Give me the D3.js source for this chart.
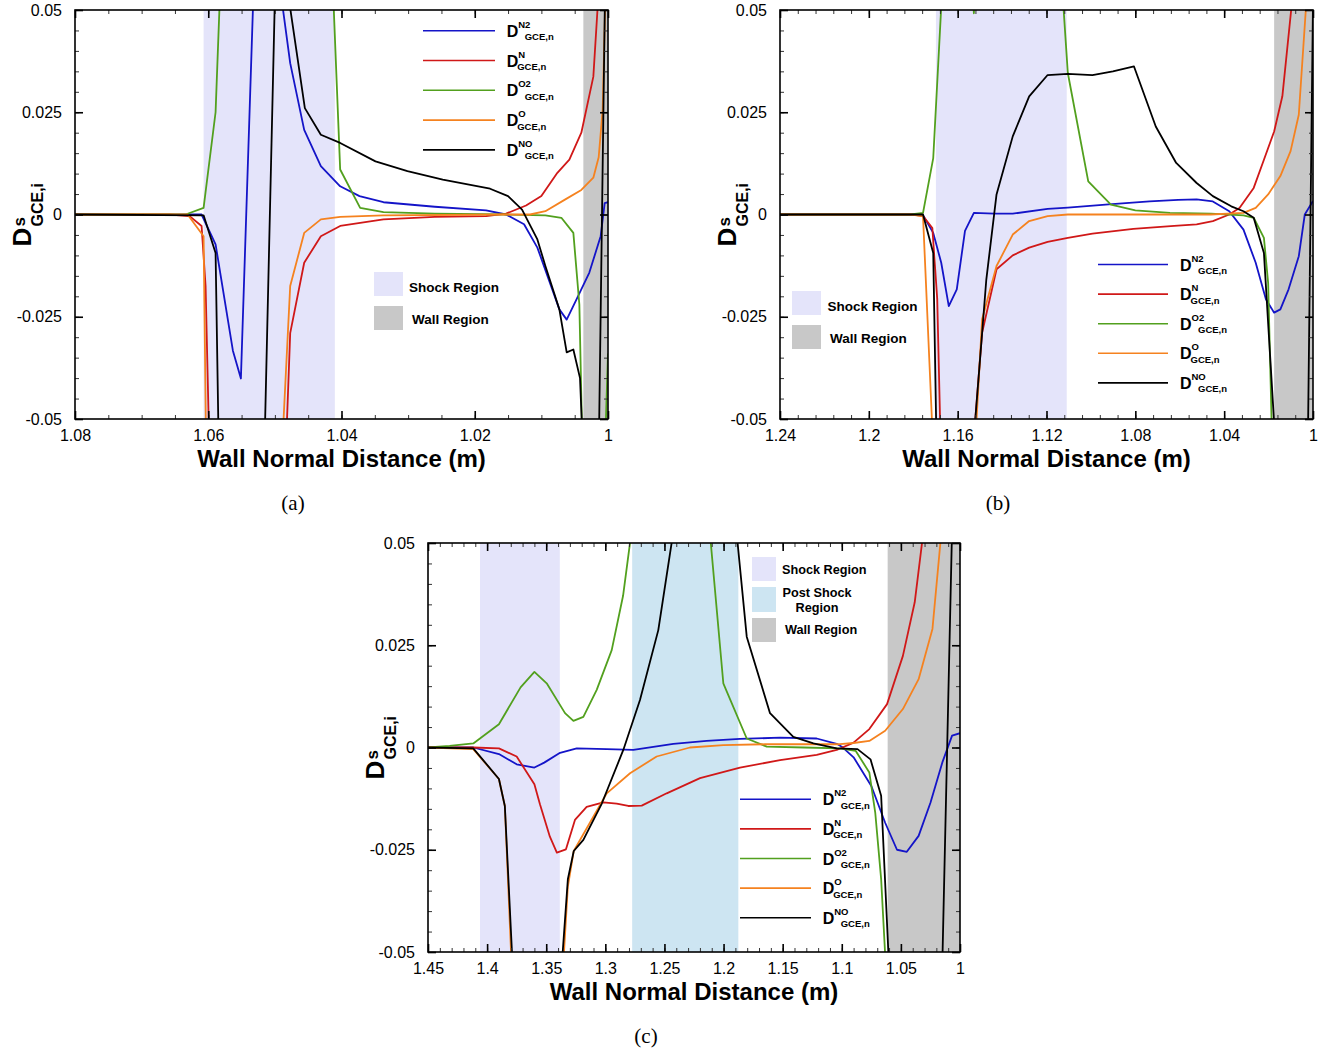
<!DOCTYPE html>
<html>
<head>
<meta charset="utf-8">
<script src="https://cdn.jsdelivr.net/npm/d3@7"></script>
<style>
body { margin: 0; background: #fff; }
svg text { font-family: "Liberation Sans", Arial, Helvetica, sans-serif; }
</style>
</head>
<body>
<svg id="fig" width="1341" height="1053"></svg>
<script>
// species order used by every panel and legend
let species = ["N2", "N", "O2", "O", "NO"];

// y axis is shared by all three panels
let yTicks = [-0.05, -0.025, 0, 0.025, 0.05];

// ---- panel (a) ----
let xTicksA = [1.08, 1.06, 1.04, 1.02, 1];
let shockA = [1.041, 1.0607];
let wallA = [1.0, 1.0037];
let aN2 = [[1.08,0],[1.061,0],[1.0589,-0.0073],[1.0563,-0.0333],[1.0551,-0.0401],[1.0532,0.055],[1.051,0.12],[1.0491,0.054],[1.0477,0.037],[1.0456,0.0207],[1.0431,0.0118],[1.0402,0.0069],[1.0373,0.0045],[1.0337,0.003],[1.026,0.0019],[1.0183,0.001],[1.0153,0],[1.0126,-0.0024],[1.0106,-0.0081],[1.0073,-0.0232],[1.0062,-0.0257],[1.0046,-0.0203],[1.0028,-0.0142],[1.0011,-0.0053],[1.0005,0.0028],[1.0,0.003]];
let aN = [[1.08,0],[1.0658,0],[1.0628,-0.0004],[1.061,-0.0028],[1.0604,-0.0175],[1.0598,-0.06],[1.0484,-0.06],[1.0477,-0.029],[1.0456,-0.0118],[1.0431,-0.0053],[1.0402,-0.0028],[1.0337,-0.0012],[1.026,-0.0006],[1.0183,-0.0004],[1.0153,0.0002],[1.0123,0.0022],[1.010,0.0045],[1.0076,0.0102],[1.0058,0.0134],[1.004,0.02],[1.0022,0.0337],[1.0012,0.06]];
let aO2 = [[1.08,0],[1.0634,0],[1.0607,0.0016],[1.0589,0.025],[1.0581,0.06],[1.05,0.15],[1.0414,0.06],[1.0402,0.011],[1.0372,0.0016],[1.0337,0.0006],[1.026,0.0002],[1.0153,0],[1.0094,-0.0002],[1.007,-0.0008],[1.0052,-0.0045],[1.0043,-0.022],[1.0038,-0.06],[1.0005,-0.06],[1.0,-0.034]];
let aO = [[1.08,0],[1.0631,0],[1.0607,-0.0053],[1.0603,-0.06],[1.049,-0.06],[1.0477,-0.0175],[1.0456,-0.0045],[1.0431,-0.0012],[1.0402,-0.0006],[1.0337,-0.0002],[1.0153,0],[1.0117,0],[1.0094,0.0008],[1.0064,0.0037],[1.004,0.006],[1.0022,0.009],[1.0014,0.014],[1.0008,0.0256],[1.0003,0.06]];
let aNO = [[1.08,0],[1.0607,-0.0002],[1.0589,-0.0094],[1.0584,-0.06],[1.0516,-0.06],[1.0499,0.06],[1.049,0.1],[1.0482,0.056],[1.0455,0.026],[1.0431,0.0195],[1.0402,0.0175],[1.0349,0.013],[1.0301,0.0106],[1.0248,0.0085],[1.0177,0.0063],[1.015,0.0045],[1.0129,0.0012],[1.0106,-0.0061],[1.0094,-0.0126],[1.0073,-0.0232],[1.0062,-0.0337],[1.0052,-0.033],[1.0042,-0.040],[1.0037,-0.06],[1.0014,-0.06],[1.0004,0.06]];

// ---- panel (b) ----
let xTicksB = [1.24, 1.2, 1.16, 1.12, 1.08, 1.04, 1];
let shockB = [1.1109, 1.1698];
let wallB = [1.0, 1.0175];
let bN2 = [[1.24,0],[1.1802,0],[1.1756,-0.0002],[1.171,-0.0045],[1.1674,-0.0118],[1.164,-0.0224],[1.1604,-0.0183],[1.1567,-0.004],[1.1527,0.0004],[1.1435,0.0002],[1.1352,0.0002],[1.1195,0.0014],[1.1104,0.0017],[1.092,0.0025],[1.0736,0.0032],[1.0607,0.0036],[1.0524,0.0037],[1.0451,0.0032],[1.0377,0.0008],[1.0313,-0.0037],[1.0258,-0.0118],[1.0212,-0.0207],[1.0175,-0.024],[1.0147,-0.0232],[1.011,-0.0183],[1.0064,-0.0102],[1.0037,0],[1.0,0.0033]];
let bN = [[1.24,0],[1.1802,0],[1.1756,-0.0004],[1.1714,-0.0033],[1.1692,-0.0207],[1.1675,-0.06],[1.1535,-0.06],[1.149,-0.0289],[1.1425,-0.0134],[1.1352,-0.010],[1.1278,-0.0081],[1.1195,-0.0067],[1.1104,-0.0057],[1.0993,-0.0047],[1.0809,-0.0035],[1.0625,-0.0028],[1.0524,-0.0024],[1.0451,-0.0016],[1.0377,0],[1.0331,0.0016],[1.0267,0.0065],[1.0221,0.0134],[1.0175,0.0203],[1.0138,0.0289],[1.0087,0.056]];
let bO2 = [[1.24,0],[1.1811,0],[1.1756,0.0004],[1.171,0.0138],[1.1665,0.06],[1.158,0.1],[1.1527,0.0492],[1.148,0.1],[1.1135,0.06],[1.1104,0.0346],[1.1012,0.0081],[1.091,0.0024],[1.08,0.001],[1.0644,0.0004],[1.046,0.0002],[1.0313,-0.0002],[1.0267,-0.0008],[1.0221,-0.0057],[1.0202,-0.0167],[1.0182,-0.06]];
let bO = [[1.24,0],[1.1811,0],[1.1756,-0.0004],[1.1708,-0.06],[1.1525,-0.06],[1.149,-0.0256],[1.1425,-0.0126],[1.1352,-0.0049],[1.1278,-0.0016],[1.1195,-0.0004],[1.1104,0],[1.046,0],[1.0313,0.0004],[1.0258,0.0016],[1.0202,0.0049],[1.0147,0.0094],[1.0101,0.0155],[1.0064,0.0244],[1.0025,0.056]];
let bNO = [[1.24,0],[1.1756,0],[1.171,-0.0094],[1.1694,-0.06],[1.1535,-0.06],[1.1471,-0.0159],[1.1425,0.0049],[1.1352,0.0191],[1.1278,0.0289],[1.1195,0.0341],[1.1104,0.0344],[1.0993,0.0341],[1.0901,0.035],[1.0806,0.0362],[1.0708,0.0215],[1.0616,0.0126],[1.0524,0.0077],[1.0451,0.0045],[1.0368,0.002],[1.0313,0.0008],[1.0267,-0.0008],[1.0221,-0.0094],[1.0165,-0.06],[1.0024,-0.06],[1.0,0.052]];

// ---- panel (c) ----
let xTicksC = [1.45, 1.4, 1.35, 1.3, 1.25, 1.2, 1.15, 1.1, 1.05, 1];
let shockC = [1.3385, 1.406];
let postShockC = [1.1875, 1.2773];
let wallC = [1.0, 1.0612];
let cN2 = [[1.45,0],[1.4117,0],[1.39,-0.0016],[1.375,-0.0041],[1.36,-0.0049],[1.3517,-0.0037],[1.3383,-0.0013],[1.3242,-0.0002],[1.2988,-0.0004],[1.2763,-0.0006],[1.2425,0.0009],[1.2143,0.0016],[1.1861,0.0021],[1.1522,0.0024],[1.1212,0.0022],[1.1043,0.0009],[1.1,0.0002],[1.09,-0.0024],[1.075,-0.0094],[1.0633,-0.0184],[1.0533,-0.025],[1.045,-0.0255],[1.035,-0.0216],[1.025,-0.0135],[1.015,-0.0037],[1.0067,0.0029],[1.0,0.0035]];
let cN = [[1.45,0],[1.4117,0],[1.39,-0.0002],[1.375,-0.0022],[1.36,-0.009],[1.3553,-0.0139],[1.3469,-0.0218],[1.341,-0.0257],[1.3333,-0.0249],[1.3257,-0.0177],[1.3158,-0.0145],[1.3017,-0.0134],[1.2904,-0.0137],[1.2806,-0.0143],[1.2692,-0.0142],[1.2481,-0.0112],[1.2199,-0.0075],[1.1861,-0.0049],[1.1522,-0.0031],[1.1212,-0.0018],[1.1043,-0.0006],[1.09,0.0012],[1.0767,0.0045],[1.0617,0.0106],[1.0483,0.0224],[1.0383,0.0355],[1.03,0.055]];
let cO2 = [[1.45,0],[1.4317,0.0004],[1.4117,0.001],[1.39,0.0057],[1.3717,0.0147],[1.36,0.0185],[1.3496,0.0157],[1.3341,0.0084],[1.327,0.0065],[1.3186,0.0075],[1.3073,0.0141],[1.2946,0.0238],[1.285,0.0371],[1.2755,0.058],[1.2145,0.062],[1.2002,0.0157],[1.1804,0.0022],[1.1635,0.0002],[1.1317,0],[1.1017,-0.0002],[1.0883,-0.0008],[1.0767,-0.0061],[1.0717,-0.0159],[1.0667,-0.0322],[1.0612,-0.062]];
let cO = [[1.45,0],[1.4117,-0.0004],[1.39,-0.0077],[1.385,-0.0143],[1.3783,-0.06],[1.337,-0.06],[1.3317,-0.034],[1.3267,-0.0253],[1.3214,-0.0226],[1.2988,-0.0112],[1.2791,-0.0063],[1.2566,-0.0022],[1.2284,0],[1.2002,0.0006],[1.165,0.0008],[1.1317,0.0008],[1.1017,0.0008],[1.09,0.0011],[1.0767,0.0016],[1.0633,0.0041],[1.0483,0.0094],[1.035,0.0167],[1.0233,0.029],[1.015,0.055]];
let cNO = [[1.45,0],[1.4117,-0.0002],[1.39,-0.0077],[1.385,-0.0143],[1.3773,-0.06],[1.3385,-0.06],[1.3317,-0.0322],[1.3267,-0.0253],[1.3186,-0.0226],[1.303,-0.0137],[1.2848,-0.0006],[1.2707,0.0116],[1.2552,0.0287],[1.2397,0.058],[1.1915,0.06],[1.1804,0.0271],[1.1607,0.0084],[1.141,0.0026],[1.124,0.001],[1.1043,-0.0002],[1.0867,-0.0004],[1.0757,-0.0029],[1.0667,-0.0118],[1.059,-0.06],[1.0155,-0.06],[1.0062,0.06]];

// colours
let lineColor = {N2: "#1414c8", N: "#d01818", O2: "#52a01e", O: "#f5821f", NO: "#000000"};
let shockFill = "#e4e4fa", postFill = "#cde5f2", wallFill = "#c8c8c8";

let panels = [
    {
        id: "a", left: 75, top: 10, width: 533, height: 409,
        xDomain: [1.08, 1.0], xTicks: xTicksA, minorStep: 0.005,
        regions: [[shockA, shockFill], [wallA, wallFill]],
        series: [aN2, aN, aO2, aO, aNO],
        legend: {x1: 423, x2: 495, y0: 30.7, dy: 29.8, tx: 506.7},
        boxes: {x: 374, w: 29, size: 13.5, items: [
            {y: 272, h: 24, fill: shockFill, lines: [["Shock Region", 409, 292, "start"]]},
            {y: 306, h: 24, fill: wallFill, lines: [["Wall Region", 412, 324, "start"]]}
        ]},
        caption: {x: 293, y: 510, text: "(a)"}
    },
    {
        id: "b", left: 780, top: 10, width: 533, height: 409,
        xDomain: [1.24, 1.0], xTicks: xTicksB, minorStep: 0.008,
        regions: [[shockB, shockFill], [wallB, wallFill]],
        series: [bN2, bN, bO2, bO, bNO],
        legend: {x1: 1098, x2: 1168, y0: 264.5, dy: 29.6, tx: 1180},
        boxes: {x: 792, w: 29, size: 13.5, items: [
            {y: 291, h: 24, fill: shockFill, lines: [["Shock Region", 827.5, 311, "start"]]},
            {y: 325, h: 24, fill: wallFill, lines: [["Wall Region", 830, 343, "start"]]}
        ]},
        caption: {x: 998, y: 510, text: "(b)"}
    },
    {
        id: "c", left: 428, top: 543, width: 532, height: 409,
        xDomain: [1.45, 1.0], xTicks: xTicksC, minorStep: 0.01,
        regions: [[shockC, shockFill], [postShockC, postFill], [wallC, wallFill]],
        series: [cN2, cN, cO2, cO, cNO],
        legend: {x1: 740, x2: 811, y0: 799.3, dy: 29.6, tx: 822.7},
        boxes: {x: 752, w: 24, size: 12.7, items: [
            {y: 557, h: 24, fill: shockFill, lines: [["Shock Region", 782, 574, "start"]]},
            {y: 587, h: 25, fill: postFill, lines: [["Post Shock", 817, 597, "middle"], ["Region", 817, 612, "middle"]]},
            {y: 618, h: 24, fill: wallFill, lines: [["Wall Region", 785, 634, "start"]]}
        ]},
        caption: {x: 646, y: 1043, text: "(c)"}
    }
];

let svg = d3.select("#fig");
let fmt = d => String(d);

function styleAxis(sel, major) {
    sel.select(".domain").remove();
    sel.selectAll(".tick line")
        .attr("stroke", major ? "#000" : "#333")
        .attr("stroke-width", major ? 1.6 : 1);
    sel.selectAll(".tick text")
        .attr("fill", "#000")
        .attr("font-size", 16)
        .attr("font-family", "'Liberation Sans', Arial, Helvetica, sans-serif");
}

function drawPanel(p) {
    let g = svg.append("g").attr("transform", `translate(${p.left}, ${p.top})`);

    let x = d3.scaleLinear().domain(p.xDomain).range([0, p.width]);
    let y = d3.scaleLinear().domain([-0.05, 0.05]).range([p.height, 0]);

    let clipId = "clip-" + p.id;
    g.append("clipPath").attr("id", clipId)
        .append("rect").attr("width", p.width).attr("height", p.height);
    let plot = g.append("g").attr("clip-path", `url(#${clipId})`);

    // shaded regions
    p.regions.forEach(([span, fill]) => {
        plot.append("rect")
            .attr("x", x(span[1]))
            .attr("width", x(span[0]) - x(span[1]))
            .attr("y", 0)
            .attr("height", p.height)
            .attr("fill", fill);
    });

    // curves
    let line = d3.line().x(d => x(d[0])).y(d => y(d[1]));
    p.series.forEach((s, i) => {
        plot.append("path")
            .datum(s)
            .attr("d", line)
            .attr("fill", "none")
            .attr("stroke", lineColor[species[i]])
            .attr("stroke-width", 1.8)
            .attr("stroke-linejoin", "round");
    });

    // minor tick positions
    let lo = d3.min(p.xDomain), hi = d3.max(p.xDomain);
    let nx = Math.round((hi - lo) / p.minorStep);
    let minorX = d3.range(nx + 1).map(i => lo + i * p.minorStep);
    let minorY = d3.range(21).map(i => -0.05 + i * 0.005);

    // bottom / top
    g.append("g").attr("transform", `translate(0, ${p.height})`)
        .call(d3.axisBottom(x).tickValues(minorX).tickSize(-4).tickFormat(""))
        .call(a => styleAxis(a, false));
    g.append("g").attr("transform", `translate(0, ${p.height})`)
        .call(d3.axisBottom(x).tickValues(p.xTicks).tickSize(-8).tickPadding(11).tickFormat(fmt))
        .call(a => styleAxis(a, true));
    g.append("g")
        .call(d3.axisTop(x).tickValues(minorX).tickSize(-4).tickFormat(""))
        .call(a => styleAxis(a, false));
    g.append("g")
        .call(d3.axisTop(x).tickValues(p.xTicks).tickSize(-8).tickFormat(""))
        .call(a => styleAxis(a, true));

    // left / right
    g.append("g")
        .call(d3.axisLeft(y).tickValues(minorY).tickSize(-4).tickFormat(""))
        .call(a => styleAxis(a, false));
    g.append("g")
        .call(d3.axisLeft(y).tickValues(yTicks).tickSize(-8).tickPadding(13).tickFormat(fmt))
        .call(a => styleAxis(a, true));
    g.append("g").attr("transform", `translate(${p.width}, 0)`)
        .call(d3.axisRight(y).tickValues(minorY).tickSize(-4).tickFormat(""))
        .call(a => styleAxis(a, false));
    g.append("g").attr("transform", `translate(${p.width}, 0)`)
        .call(d3.axisRight(y).tickValues(yTicks).tickSize(-8).tickFormat(""))
        .call(a => styleAxis(a, true));

    // frame
    g.append("rect")
        .attr("width", p.width).attr("height", p.height)
        .attr("fill", "none").attr("stroke", "#000").attr("stroke-width", 1.6);

    // x axis title
    g.append("text")
        .attr("x", p.width / 2)
        .attr("y", p.height + 48)
        .attr("text-anchor", "middle")
        .attr("font-size", 24)
        .attr("font-weight", "bold")
        .text("Wall Normal Distance (m)");

    // y axis title  D^s_{GCE,i}
    let yl = g.append("g")
        .attr("transform", `translate(-44, ${p.height / 2 + 32}) rotate(-90)`)
        .attr("font-weight", "bold");
    yl.append("text").attr("x", 0).attr("y", 0).attr("font-size", 26).text("D");
    yl.append("text").attr("x", 20).attr("y", -6).attr("font-size", 17).text("s");
    yl.append("text").attr("x", 20).attr("y", 12).attr("font-size", 16).text("GCE,i");

    // species legend
    let L = p.legend;
    species.forEach((sp, i) => {
        let ly = L.y0 + i * L.dy;
        svg.append("line")
            .attr("x1", L.x1).attr("x2", L.x2)
            .attr("y1", ly).attr("y2", ly)
            .attr("stroke", lineColor[sp]).attr("stroke-width", 1.6);
        let t = svg.append("g").attr("font-weight", "bold");
        t.append("text").attr("x", L.tx).attr("y", ly + 6).attr("font-size", 16).text("D");
        t.append("text").attr("x", L.tx + 11.5).attr("y", ly - 3).attr("font-size", 9.5).text(sp);
        t.append("text").attr("x", L.tx + (sp.length > 1 ? 18 : 10.5)).attr("y", ly + 9.5)
            .attr("font-size", 9.5).text("GCE,n");
    });

    // region legend
    let B = p.boxes;
    B.items.forEach(item => {
        svg.append("rect")
            .attr("x", B.x).attr("y", item.y)
            .attr("width", B.w).attr("height", item.h)
            .attr("fill", item.fill);
        item.lines.forEach(([txt, tx, ty, anchor]) => {
            svg.append("text")
                .attr("x", tx).attr("y", ty)
                .attr("text-anchor", anchor)
                .attr("font-size", B.size)
                .attr("font-weight", "bold")
                .text(txt);
        });
    });

    // caption
    svg.append("text")
        .attr("x", p.caption.x).attr("y", p.caption.y)
        .attr("text-anchor", "middle")
        .attr("font-size", 21)
        .style("font-family", "'Liberation Serif', 'DejaVu Serif', serif")
        .text(p.caption.text);
}

panels.forEach(drawPanel);
</script>
</body>
</html>
